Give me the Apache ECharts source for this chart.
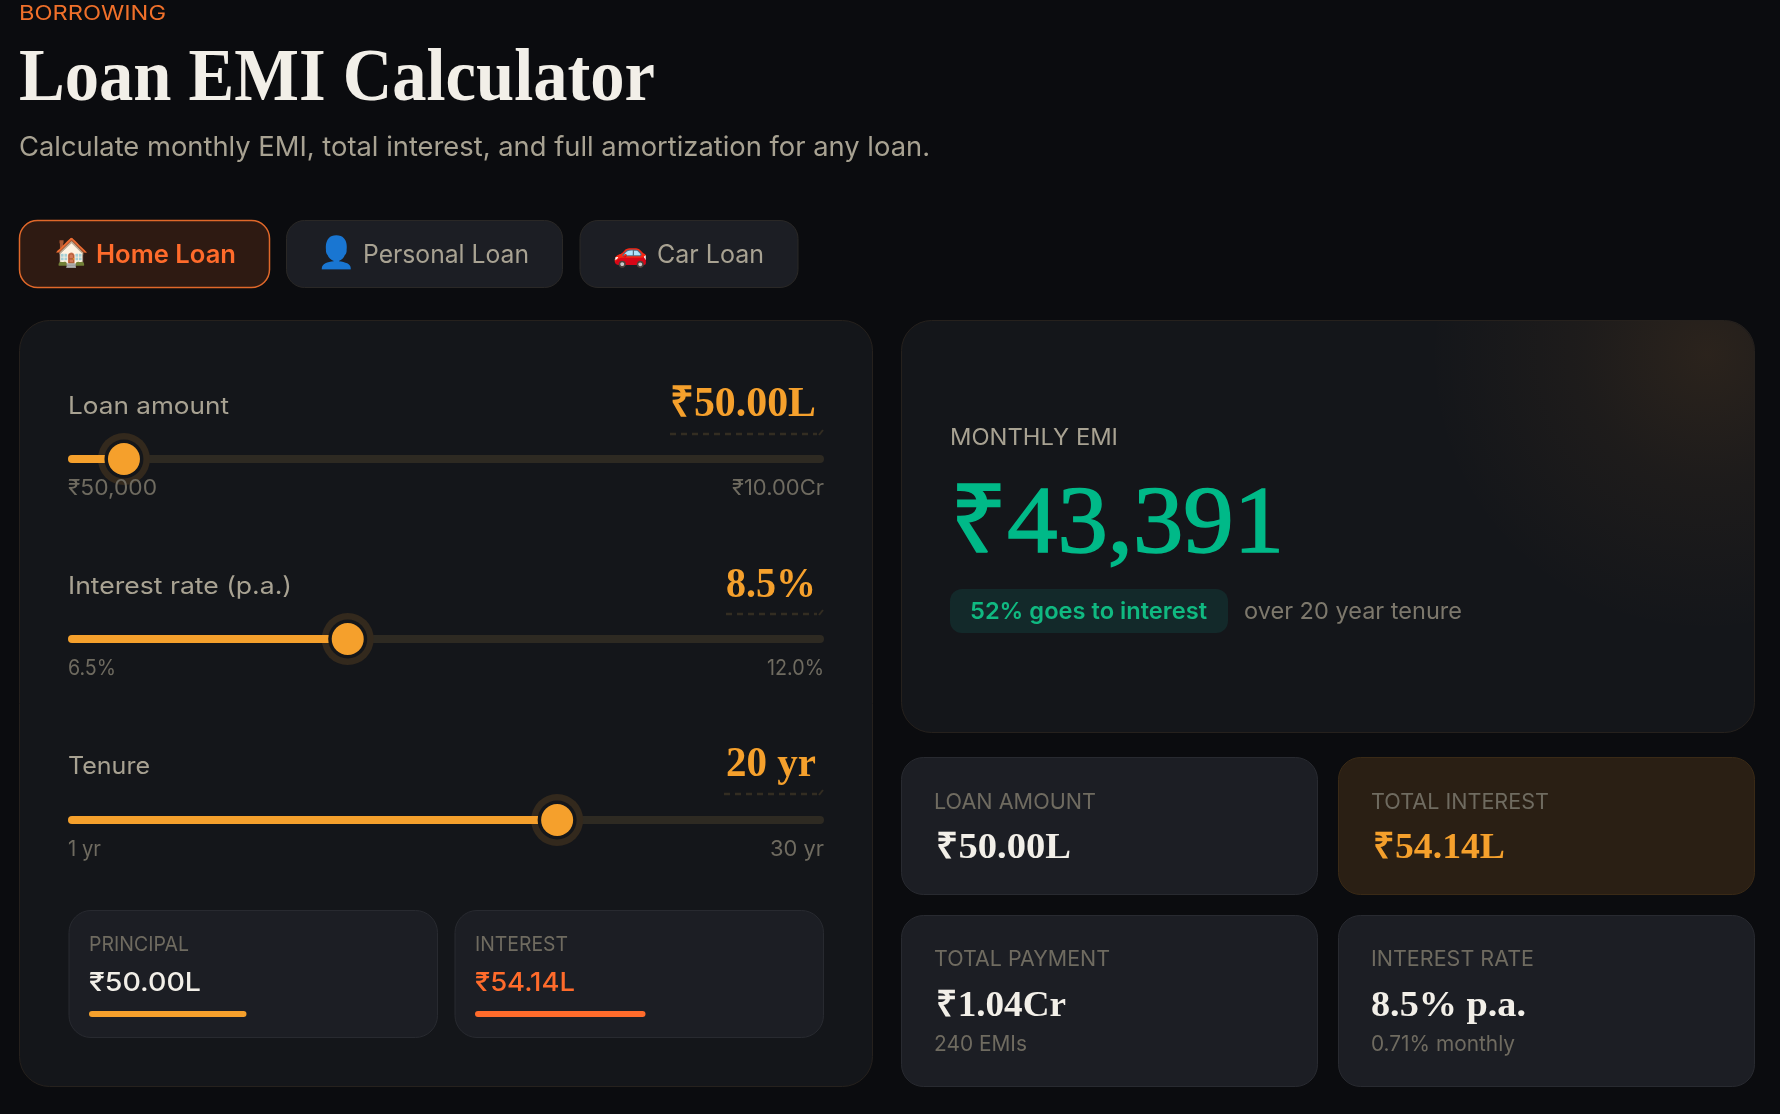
<!DOCTYPE html>
<html>
<head>
<meta charset="utf-8">
<title>Loan EMI Calculator</title>
<script src="https://cdn.jsdelivr.net/npm/echarts@6/dist/echarts.min.js"></script>
<style>
  html, body { margin: 0; background: #0b0c0f; }
  #main { width: 1780px; height: 1114px; }
</style>
</head>
<body>
<div id="main"></div>
<script>
// data
const tabLabels = ['Home Loan', 'Personal Loan', 'Car Loan'];
const tabIcons = ['🏠', '👤', '🚗'];
const sliderLabels = ['Loan amount', 'Interest rate (p.a.)', 'Tenure'];
const sliderValueTexts = ['₹50.00L', '8.5%', '20 yr'];
const sliderFillPct = [7.4, 37.0, 64.7];
const sliderMinLabels = ['₹50,000', '6.5%', '1 yr'];
const sliderMaxLabels = ['₹10.00Cr', '12.0%', '30 yr'];
const splitLabels = ['PRINCIPAL', 'INTEREST'];
const splitValueTexts = ['₹50.00L', '₹54.14L'];
const splitLakhs = [50.0, 54.14];
const statLabels = ['LOAN AMOUNT', 'TOTAL INTEREST', 'TOTAL PAYMENT', 'INTEREST RATE'];
const statValues = ['₹50.00L', '₹54.14L', '₹1.04Cr', '8.5% p.a.'];
const statNotes = ['', '', '240 EMIs', '0.71% monthly'];

const SANS = 'Inter, "Noto Sans", sans-serif';
const SERIF = '"Liberation Serif", serif';
const AMBER = '#f5a02c';
const ORANGE = '#ff6b2b';
const INK = '#f2efe8';
const MUTED = '#a8a292';
const DIM = '#6f6b60';

const measureCtx = document.createElement('canvas').getContext('2d');

// text squeezed or stretched to the width it has in the picture
function label(text, x, y, size, fill, family, weight, width, heavy) {
  const font = `${weight || 400} ${size}px ${family || SANS}`;
  measureCtx.font = font;
  const scale = width ? width / measureCtx.measureText(text).width : 1;
  const style = { text, font, fill, align: 'left', verticalAlign: 'middle' };
  if (heavy) {
    style.stroke = fill;
    style.lineWidth = heavy;
  }
  return { type: 'text', x, y, scaleX: scale, scaleY: 1, z: 20, style };
}

function card(x, y, w, h, r, fill, stroke, lineWidth) {
  return {
    type: 'rect', z: 1,
    shape: { x, y, width: w, height: h, r },
    style: { fill, stroke, lineWidth: lineWidth || 1 }
  };
}

function dashes(x1, x2, y) {
  return {
    type: 'line', z: 2,
    shape: { x1, y1: y, x2: x2 - 6, y2: y },
    style: { stroke: '#332d22', lineWidth: 2.5, lineDash: [6, 5] }
  };
}

// the dashed underline curls up a little at its right end
function dashCurl(x2, y) {
  return {
    type: 'line', z: 2,
    shape: { x1: x2 - 4, y1: y + 1, x2, y2: y - 4 },
    style: { stroke: '#332d22', lineWidth: 2 }
  };
}

const graphics = [];

// header
graphics.push(
  label('BORROWING', 19, 14, 20, '#f0702a', SANS, 400, 147),
  label('Loan EMI Calculator', 19, 81, 73, INK, SERIF, 700, 636),
  label('Calculate monthly EMI, total interest, and full amortization for any loan.', 19, 148, 27, MUTED, SANS, 400, 911)
);

// tabs
const tabBoxes = [[19.5, 250], [286.5, 276], [580, 218]];
const tabIconX = [54, 317, 613];
const tabIconSize = [28, 31, 28];
const tabTextBox = [[96, 140], [363, 166], [657, 107]];
tabLabels.forEach((name, i) => {
  const active = i === 0;
  graphics.push(
    card(tabBoxes[i][0], 220.5, tabBoxes[i][1], 67, 18, active ? '#2e1a12' : '#1c1e24', active ? '#e0682a' : '#2a2826', active ? 1.5 : 1),
    label(tabIcons[i], tabIconX[i], 254, tabIconSize[i], '#fff', '"Noto Color Emoji", sans-serif'),
    label(name, tabTextBox[i][0], 255, 25, active ? ORANGE : MUTED, SANS, active ? 600 : 400, tabTextBox[i][1])
  );
});

// left panel
graphics.push(card(19.5, 320.5, 853, 766, 30, '#14161a', '#26211d'));
const sliderLabelW = [161, 224, 82];
const sliderLabelY = [407, 587, 767];
const sliderValueBox = [[670, 146], [726, 90], [726, 90]];
const sliderValueY = [405, 586, 765];
const sliderDash = [[670, 823, 434], [726, 823, 614], [724, 823, 794]];
const sliderMinW = [89, 48, 33];
const sliderMaxBox = [[732, 92], [767, 57], [770, 54]];
const sliderTickY = [489, 669, 850];
sliderLabels.forEach((name, i) => {
  graphics.push(
    label(name, 68, sliderLabelY[i], 24, MUTED, SANS, 400, sliderLabelW[i]),
    label(sliderValueTexts[i], sliderValueBox[i][0], sliderValueY[i], 42, AMBER, SERIF, 700, sliderValueBox[i][1]),
    dashes(sliderDash[i][0], sliderDash[i][1], sliderDash[i][2]),
    dashCurl(sliderDash[i][1], sliderDash[i][2]),
    label(sliderMinLabels[i], 68, sliderTickY[i], 21, DIM, SANS, 400, sliderMinW[i]),
    label(sliderMaxLabels[i], sliderMaxBox[i][0], sliderTickY[i], 21, DIM, SANS, 400, sliderMaxBox[i][1])
  );
});

// principal / interest mini cards
const splitBoxX = [69, 455];
const splitLabelW = [100, 93];
const splitValueW = [112, 100];
const splitColors = [AMBER, ORANGE];
const splitTextColors = [INK, ORANGE];
splitLabels.forEach((name, i) => {
  const left = splitBoxX[i] + 20;
  graphics.push(
    card(splitBoxX[i], 910.5, 368.5, 127, 22, '#1c1e24', '#282a30'),
    label(name, left, 945, 20, DIM, SANS, 400, splitLabelW[i]),
    label(splitValueTexts[i], left, 983, 26, splitTextColors[i], SANS, 500, splitValueW[i])
  );
});

// hero card with the warm glow in its top right corner
graphics.push(
  card(901.5, 320.5, 853, 412, 30, '#14161a', '#26211d'),
  {
    type: 'rect', z: 2,
    shape: { x: 902, y: 321, width: 852, height: 411, r: 30 },
    style: {
      fill: new echarts.graphic.RadialGradient(0.945, 0.08, 0.68, [
        { offset: 0, color: 'rgba(245,150,50,0.10)' },
        { offset: 0.45, color: 'rgba(245,150,50,0.045)' },
        { offset: 1, color: 'rgba(245,150,50,0)' }
      ])
    }
  },
  label('MONTHLY EMI', 950, 438, 23, MUTED, SANS, 400, 168),
  label('₹43,391', 950, 527, 95, '#00b988', SERIF, 400, 334, 1.6),
  card(950, 589, 278, 44, 12, '#13292a', 'transparent', 0),
  label('52% goes to interest', 970, 612, 23.5, '#10b981', SANS, 600, 237),
  label('over 20 year tenure', 1244, 612, 23.5, '#7d786c', SANS, 400, 218)
);

// stat cards
const statBoxes = [[901.5, 757.5, 137], [1338.5, 757.5, 137], [901.5, 915.5, 171], [1338.5, 915.5, 171]];
const statLabelW = [162, 178, 176, 163];
const statValueW = [135, 132, 130, 155];
const statNoteW = [0, 0, 93, 144];
const statLabelY = [802, 802, 959, 959];
const statValueY = [849, 849, 1007, 1007];
statLabels.forEach((name, i) => {
  const warm = i === 1;
  const box = statBoxes[i];
  const left = box[0] + 32.5;
  graphics.push(
    card(box[0], box[1], 416, box[2], 22, warm ? '#2a1f14' : '#1c1e24', warm ? '#3a2a16' : '#282a30'),
    label(name, left, statLabelY[i], 22, DIM, SANS, 400, statLabelW[i]),
    label(statValues[i], left + (i === 3 ? 0 : 2), statValueY[i], 36, warm ? AMBER : INK, SERIF, 700, statValueW[i])
  );
  if (statNotes[i]) {
    graphics.push(label(statNotes[i], left, 1045, 21.5, DIM, SANS, 400, statNoteW[i]));
  }
});

// sliders and split bars are plain one-row bar grids
const grids = [];
const xAxes = [];
const yAxes = [];
const series = [];

function addGrid(left, top, width, height, max) {
  const idx = grids.length;
  grids.push({ left, top, width, height });
  xAxes.push({ type: 'value', gridIndex: idx, min: 0, max, show: false });
  yAxes.push({ type: 'category', gridIndex: idx, data: [''], show: false });
  return idx;
}

function bar(idx, value, color, width, radius, z) {
  series.push({
    type: 'bar', xAxisIndex: idx, yAxisIndex: idx, data: [value],
    barWidth: width, barGap: '-100%', silent: true, z,
    itemStyle: { color, borderRadius: radius }
  });
}

function dot(idx, value, size, color, z) {
  series.push({
    type: 'scatter', xAxisIndex: idx, yAxisIndex: idx, data: [[value, '']],
    symbolSize: size, clip: false, silent: true, z,
    itemStyle: { color, opacity: 1 }
  });
}

// halo sits under the amber fill, dark ring and thumb over it
const sliderTrackTop = [455, 635, 816];
sliderFillPct.forEach((pct, i) => {
  const idx = addGrid(68, sliderTrackTop[i], 756, 8, 100);
  bar(idx, 100, '#2e2a22', 8, 4, 3);
  dot(idx, pct, 52, '#33291d', 4);
  bar(idx, pct, AMBER, 8, 4, 5);
  dot(idx, pct, 39, '#14161a', 6);
  dot(idx, pct, 32, AMBER, 7);
});

const splitTotal = splitLakhs[0] + splitLakhs[1];
splitLakhs.forEach((lakh, i) => {
  const idx = addGrid(splitBoxX[i] + 20, 1011, 328, 6, splitTotal);
  bar(idx, lakh, splitColors[i], 6, 3, 4);
});

const chart = echarts.init(document.getElementById('main'));
chart.setOption({
  backgroundColor: '#0b0c0f',
  animation: false,
  tooltip: { show: false },
  graphic: { elements: graphics },
  grid: grids,
  xAxis: xAxes,
  yAxis: yAxes,
  series
});
</script>
</body>
</html>
